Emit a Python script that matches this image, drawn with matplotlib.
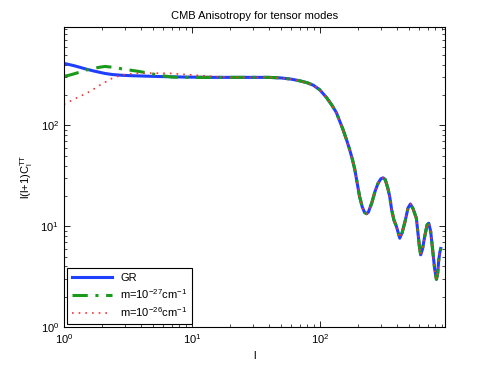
import matplotlib
matplotlib.use('Agg')
import matplotlib.pyplot as plt

# CMB tensor-mode spectrum
plt.rcParams['font.family'] = ['Liberation Sans', 'DejaVu Sans']
plt.rcParams['mathtext.fontset'] = 'custom'
plt.rcParams['mathtext.rm'] = 'Liberation Sans'
plt.rcParams['mathtext.default'] = 'regular'

# low multipoles: the three models differ here
ell_low = [1, 1.1, 1.2, 1.33, 1.5, 1.7, 1.9, 2.1, 2.4, 2.8, 3.3, 3.9, 4.6, 5.5, 7, 9, 12, 15]
cl_gr_low = [413, 402, 392, 378, 362, 348, 337, 328, 320, 315, 312, 310, 308, 306, 304, 302, 301, 300]
cl_m27_low = [307, 315, 325, 338, 355, 368, 378, 385, 378, 366, 354, 343, 330, 316, 302, 300, 300, 300]
cl_m26_low = [162, 172, 182, 194, 208, 228, 250, 268, 295, 315, 325, 330, 331, 330, 328, 320, 312, 306]

# high multipoles: identical for all models
ell_high = [20, 30, 40, 50, 60, 70, 80, 89, 100, 113, 124, 135, 152, 162, 171, 180, 188, 197, 205,
            215, 224, 232, 240, 255, 270, 285, 300, 312, 325, 340, 352, 365, 380, 398, 422,
            440, 464, 490, 511, 535, 569, 601, 615, 635, 661, 690, 711, 735, 758, 790, 816,
            835, 851, 868, 882]
cl_high = [300, 300, 300, 296, 288, 277, 265, 251, 226, 189, 160, 134, 91, 72, 58, 46, 36.5, 26, 19.6,
           15.5, 13.7, 13.3, 13.8, 17, 22, 26.5, 29.5, 30.2, 29, 24, 19.8, 14.5, 11.5, 9.9, 7.6,
           8.6, 11.1, 15.2, 16.6, 15.0, 12.0, 6.3, 5.2, 5.9, 7.9, 10.3, 10.7, 9.0, 6.3, 3.8, 2.97,
           3.4, 4.6, 5.5, 6.0]

ell = ell_low + ell_high
cl_gr = cl_gr_low + cl_high
cl_m27 = cl_m27_low + cl_high
cl_m26 = cl_m26_low + cl_high

fig = plt.figure(figsize=(4.91, 3.69), dpi=100)
ax = fig.add_axes([0.130, 0.114, 0.776, 0.813])

ax.loglog(ell, cl_gr, color='#1f3fff', lw=2.2, label='GR')
ax.loglog(ell, cl_m27, color='#1a9a1a', lw=2.2, ls=(0, (5, 2.5, 1, 2.5)),
          label=r'm=10$^{-27}$cm$^{-1}$')
ax.loglog(ell, cl_m26, color='#ff3030', lw=1.2, ls=(0, (1, 3)),
          label=r'm=10$^{-26}$cm$^{-1}$')

ax.set_xlim(1, 950)
ax.set_ylim(1, 950)
ax.set_title('CMB Anisotropy for tensor modes', fontsize=8)
ax.set_xlabel('l', fontsize=8)
ax.set_ylabel(r'l(l+1)C$_l^{TT}$', fontsize=8)

ax.tick_params(which='both', direction='in', top=True, right=True, labelsize=8)
ax.tick_params(which='major', length=4, width=0.6)
ax.tick_params(which='minor', length=2, width=0.5)
for sp in ax.spines.values():
    sp.set_linewidth(0.8)

leg = ax.legend(loc='lower left', fontsize=8, handlelength=3.6, borderaxespad=0.3,
                fancybox=False, framealpha=1, edgecolor='black', labelspacing=0.4)
leg.get_frame().set_linewidth(0.8)

fig.savefig('out.png', dpi=100)
